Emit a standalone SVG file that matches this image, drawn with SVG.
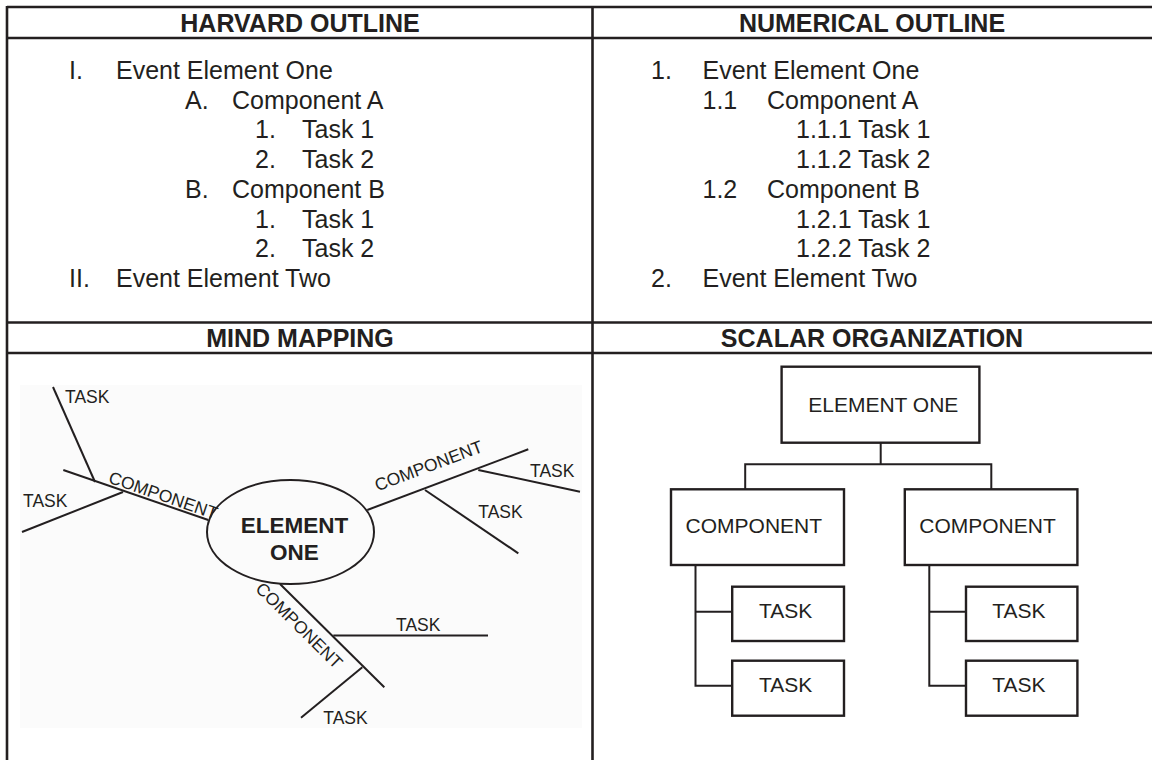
<svg xmlns="http://www.w3.org/2000/svg" width="1152" height="760" viewBox="0 0 1152 760">
<style>
  .rule{stroke:#231f20;stroke-width:2.6;fill:none}
  .hd{font-family:"Liberation Sans",Arial,sans-serif;font-weight:bold;font-size:25px;fill:#231f20;text-anchor:middle}
  .ol{font-family:"Liberation Sans",Arial,sans-serif;font-size:25px;fill:#231f20}
  .ln{stroke:#231f20;stroke-width:2;fill:none;stroke-linecap:butt}
  .mm{font-family:"Liberation Sans",Arial,sans-serif;font-size:17.5px;fill:#231f20}
  .mb{font-family:"Liberation Sans",Arial,sans-serif;font-weight:bold;font-size:22.5px;fill:#231f20;text-anchor:middle}
  .box{stroke:#231f20;stroke-width:2.4;fill:#fff}
  .sc{font-family:"Liberation Sans",Arial,sans-serif;font-size:21px;fill:#231f20;text-anchor:middle}
</style>
<rect x="0" y="0" width="1152" height="760" fill="#fff"/>

<g id="table">
  <line class="rule" x1="7" y1="7" x2="1152" y2="7"/>
  <line class="rule" x1="7" y1="38" x2="1152" y2="38"/>
  <line class="rule" x1="7" y1="322.5" x2="1152" y2="322.5"/>
  <line class="rule" x1="7" y1="353" x2="1152" y2="353"/>
  <line class="rule" x1="7" y1="6" x2="7" y2="760"/>
  <line class="rule" x1="592.5" y1="6" x2="592.5" y2="760"/>
  <text class="hd" x="300" y="32">HARVARD OUTLINE</text>
  <text class="hd" x="872" y="32">NUMERICAL OUTLINE</text>
  <text class="hd" x="300" y="347">MIND MAPPING</text>
  <text class="hd" x="872" y="347">SCALAR ORGANIZATION</text>
</g>

<g id="harvard-outline">
  <text class="ol" x="69" y="79">I.</text><text class="ol" x="116" y="79">Event Element One</text>
  <text class="ol" x="185" y="108.7">A.</text><text class="ol" x="232" y="108.7">Component A</text>
  <text class="ol" x="255" y="138.4">1.</text><text class="ol" x="302" y="138.4">Task 1</text>
  <text class="ol" x="255" y="168">2.</text><text class="ol" x="302" y="168">Task 2</text>
  <text class="ol" x="185" y="197.8">B.</text><text class="ol" x="232" y="197.8">Component B</text>
  <text class="ol" x="255" y="227.5">1.</text><text class="ol" x="302" y="227.5">Task 1</text>
  <text class="ol" x="255" y="257">2.</text><text class="ol" x="302" y="257">Task 2</text>
  <text class="ol" x="69" y="287">II.</text><text class="ol" x="116" y="287">Event Element Two</text>
</g>

<g id="numerical-outline">
  <text class="ol" x="651" y="79">1.</text><text class="ol" x="702.5" y="79">Event Element One</text>
  <text class="ol" x="702.5" y="108.7">1.1</text><text class="ol" x="767" y="108.7">Component A</text>
  <text class="ol" x="796" y="138.4">1.1.1 Task 1</text>
  <text class="ol" x="796" y="168">1.1.2 Task 2</text>
  <text class="ol" x="702.5" y="197.8">1.2</text><text class="ol" x="767" y="197.8">Component B</text>
  <text class="ol" x="796" y="227.5">1.2.1 Task 1</text>
  <text class="ol" x="796" y="257">1.2.2 Task 2</text>
  <text class="ol" x="651" y="287">2.</text><text class="ol" x="702.5" y="287">Event Element Two</text>
</g>

<g id="mind-map">
  <rect x="20" y="385" width="562" height="343" fill="#fbfbfb"/>
  <g id="mm-connectors">
    <line class="ln" x1="63.3" y1="470" x2="208.3" y2="520"/>
    <line class="ln" x1="53" y1="387" x2="95" y2="482"/>
    <line class="ln" x1="22" y1="532" x2="123" y2="492"/>
    <line class="ln" x1="367.3" y1="510" x2="528.3" y2="449.3"/>
    <line class="ln" x1="478.3" y1="470" x2="580" y2="491.7"/>
    <line class="ln" x1="425" y1="490" x2="518.3" y2="553.3"/>
    <line class="ln" x1="280" y1="584" x2="384.3" y2="687.3"/>
    <line class="ln" x1="333.3" y1="635.5" x2="488" y2="635.5"/>
    <line class="ln" x1="362.3" y1="667.3" x2="301" y2="717.7"/>
  </g>
  <g id="mm-element-one">
    <ellipse cx="290.5" cy="532" rx="83.5" ry="52" fill="none" stroke="#231f20" stroke-width="2"/>
    <text class="mb" x="294.5" y="533">ELEMENT</text>
    <text class="mb" x="294.5" y="560">ONE</text>
  </g>
  <g id="mm-component-left">
    <text class="mm" transform="translate(107.5,482.5) rotate(19)">COMPONENT</text>
    <text class="mm" x="65" y="403">TASK</text>
    <text class="mm" x="23" y="507">TASK</text>
  </g>
  <g id="mm-component-right">
    <text class="mm" transform="translate(377.5,491.5) rotate(-20.66)">COMPONENT</text>
    <text class="mm" x="530" y="476.7">TASK</text>
    <text class="mm" x="478.3" y="518.3">TASK</text>
  </g>
  <g id="mm-component-bottom">
    <text class="mm" transform="translate(254.6,589.7) rotate(44.8)">COMPONENT</text>
    <text class="mm" x="396" y="631">TASK</text>
    <text class="mm" x="323.3" y="724">TASK</text>
  </g>
</g>

<g id="scalar">
  <g id="sc-connectors">
    <polyline class="ln" points="880.7,442.7 880.7,464.3"/>
    <polyline class="ln" points="745.2,489.3 745.2,464.3 991.3,464.3 991.3,489.3"/>
    <polyline class="ln" points="695.5,565 695.5,685.7 732.2,685.7"/>
    <line class="ln" x1="695.5" y1="611.7" x2="732.2" y2="611.7"/>
    <polyline class="ln" points="929.3,565 929.3,685.7 966,685.7"/>
    <line class="ln" x1="929.3" y1="611.7" x2="966" y2="611.7"/>
  </g>
  <g id="sc-element-one">
    <rect class="box" x="781.6" y="366.7" width="197.8" height="76"/>
    <text class="sc" x="883.3" y="412.3">ELEMENT ONE</text>
  </g>
  <g id="sc-component-left">
    <rect class="box" x="671" y="489.3" width="173" height="75.7"/>
    <text class="sc" x="753.8" y="533.3">COMPONENT</text>
  </g>
  <g id="sc-component-right">
    <rect class="box" x="904.8" y="489.3" width="172.6" height="75.7"/>
    <text class="sc" x="987.5" y="533.3">COMPONENT</text>
  </g>
  <g id="sc-task-l1">
    <rect class="box" x="732.2" y="586.7" width="111.8" height="54.3"/>
    <text class="sc" x="785.6" y="618.3">TASK</text>
  </g>
  <g id="sc-task-l2">
    <rect class="box" x="732.2" y="660.7" width="111.8" height="55"/>
    <text class="sc" x="785.6" y="691.7">TASK</text>
  </g>
  <g id="sc-task-r1">
    <rect class="box" x="966" y="586.7" width="111.4" height="54.3"/>
    <text class="sc" x="1018.8" y="618.3">TASK</text>
  </g>
  <g id="sc-task-r2">
    <rect class="box" x="966" y="660.7" width="111.4" height="55"/>
    <text class="sc" x="1018.8" y="691.7">TASK</text>
  </g>
</g>
</svg>
